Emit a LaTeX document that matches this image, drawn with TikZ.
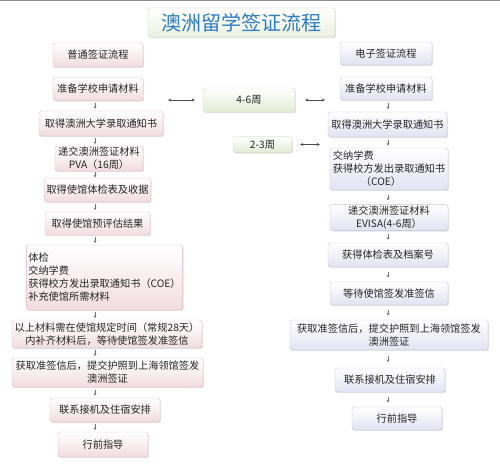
\documentclass[tikz,border=0pt]{standalone}
\usepackage{fontspec}
\setmainfont{Noto Sans CJK SC}
\usetikzlibrary{arrows.meta,shadows,calc}

\definecolor{rosa}{HTML}{F1DCE0}
\definecolor{rosaborde}{HTML}{DDBCC2}
\definecolor{lila}{HTML}{E2E2F2}
\definecolor{lilaborde}{HTML}{C4C4DE}
\definecolor{verde}{HTML}{E2EBD4}
\definecolor{verdeborde}{HTML}{C8D6B4}
\definecolor{azultitulo}{HTML}{2E7CC2}

\begin{document}
\begin{tikzpicture}[x=1pt,y=-1pt,
    caja/.style={rounded corners=2.5pt, inner xsep=2pt, inner ysep=1pt,
      font=\fontsize{10.2}{13}\selectfont, text=black!85,
      drop shadow={opacity=0.22, shadow xshift=1pt, shadow yshift=-1.2pt}},
    izq/.style={caja, draw=rosaborde, top color=white, bottom color=rosa},
    der/.style={caja, draw=lilaborde, top color=white, bottom color=lila},
    centro/.style={caja, draw=verdeborde, top color=white, bottom color=verde},
    flecha/.style={draw=black!55, line width=0.5pt, -{Stealth[length=2.6pt,width=3pt]}},
    doble/.style={draw=black!70, line width=0.6pt,
      {Stealth[length=3pt,width=3pt]}-{Stealth[length=3pt,width=3pt]}}
  ]

    \useasboundingbox (0,0) rectangle (500,468);

    % Linea superior
    \draw[black!45, line width=1.5pt] (0,0.75) -- (500,0.75);

    % Titulo
    \node[caja, draw=verdeborde, top color=white, bottom color=verde!70,
      minimum width=187pt, minimum height=29pt, text=azultitulo,
      font=\fontsize{20}{20}\selectfont] (T) at (241.5,22.5) {澳洲留学签证流程};

    % Columna izquierda: visado normal
    \node[izq, minimum width=90pt, minimum height=24pt] (L0) at (98,55) {普通签证流程};
    \node[izq, minimum width=90pt, minimum height=23pt] (L1) at (98,89) {准备学校申请材料};
    \node[izq, minimum width=124pt, minimum height=25pt] (L2) at (101,123.5) {取得澳洲大学录取通知书};
    \node[izq, minimum width=88pt, minimum height=25pt, align=center] (L3) at (99,158.5) {递交澳洲签证材料\\PVA（16周）};
    \node[izq, minimum width=105pt, minimum height=24pt] (L4) at (97.5,190) {取得使馆体检表及收据};
    \node[izq, minimum width=105pt, minimum height=23pt] (L5) at (97.5,223.5) {取得使馆预评估结果};
    \node[izq, minimum width=155pt, minimum height=65pt, align=left] (L6) at (104.5,277.5)
      {体检\\交纳学费\\获得校方发出录取通知书（COE）\\补充使馆所需材料};
    \node[izq, minimum width=190pt, minimum height=28pt, align=center] (L7) at (107,334)
      {以上材料需在使馆规定时间（常规28天）\\内补齐材料后，等待使馆签发准签信};
    \node[izq, minimum width=191pt, minimum height=29pt, align=center] (L8) at (107.5,372.5)
      {获取准签信后，提交护照到上海领馆签发\\澳洲签证};
    \node[izq, minimum width=110pt, minimum height=24pt] (L9) at (105,410) {联系接机及住宿安排};
    \node[izq, minimum width=90pt, minimum height=25pt] (L10) at (103,444.5) {行前指导};

    % Columna derecha: visado electronico
    \node[der, minimum width=92pt, minimum height=23pt] (R0) at (386,53.5) {电子签证流程};
    \node[der, minimum width=92pt, minimum height=23pt] (R1) at (386,88.5) {准备学校申请材料};
    \node[der, minimum width=119pt, minimum height=25pt] (R2) at (387.5,124.5) {取得澳洲大学录取通知书};
    \node[der, minimum width=118pt, minimum height=42pt, align=left] (R3) at (389,169)
      {交纳学费\\获得校方发出录取通知书\\\hspace*{28pt}（COE）};
    \node[der, minimum width=118pt, minimum height=25pt, align=center] (R4) at (389,217.5)
      {递交澳洲签证材料\\EVISA(4-6周）};
    \node[der, minimum width=120pt, minimum height=24pt] (R5) at (388,255) {获得体检表及档案号};
    \node[der, minimum width=118pt, minimum height=23pt] (R6) at (389,293.5) {等待使馆签发准签信};
    \node[der, minimum width=198pt, minimum height=30pt, align=center] (R7) at (389,335)
      {获取准签信后，提交护照到上海领馆签发\\澳洲签证};
    \node[der, minimum width=110pt, minimum height=24pt] (R8) at (390,380) {联系接机及住宿安排};
    \node[der, minimum width=90pt, minimum height=23pt] (R9) at (397,418.5) {行前指导};

    % Plazos en el centro
    \node[centro, minimum width=92pt, minimum height=24pt] (M1) at (249,100) {4-6周};
    \node[centro, minimum width=59pt, minimum height=16pt] (M2) at (262.5,144.5) {2-3周};

    % Flechas dobles
    \draw[doble, shorten <=25pt, shorten >=8pt] (L1.east |- M1.west) -- (M1.west);
    \draw[doble, shorten <=10pt, shorten >=15pt] (M1.east) -- (R1.west |- M1.east);
    \draw[doble, shorten <=8pt, shorten >=8pt] (M2.east) -- (R2.west |- M2.east);

    % Flechas pequenas entre pasos
    \coordinate (colI) at (95,0);
    \coordinate (colD) at (388,0);
    \foreach \a/\b in {L1/L2,L2/L3,L3/L4,L4/L5,L5/L6,L6/L7,L7/L8,L8/L9,L9/L10}
      \draw[flecha] ($(\a.south -| colI)!0.5!(\b.north -| colI)$) +(0,-2.8) -- +(0,3);
    \foreach \a/\b in {R1/R2,R2/R3,R3/R4,R4/R5,R5/R6,R6/R7,R7/R8,R8/R9}
      \draw[flecha] ($(\a.south -| colD)!0.5!(\b.north -| colD)$) +(0,-2.8) -- +(0,3);

\end{tikzpicture}
\end{document}
